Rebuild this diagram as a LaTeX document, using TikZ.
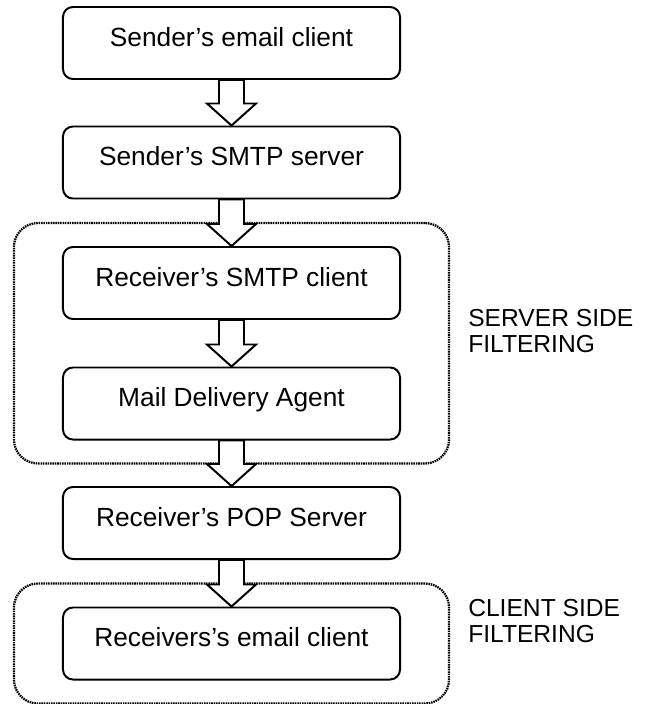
\documentclass[tikz,border=0pt]{standalone}
\usepackage{fontspec}
\setmainfont{Liberation Sans}
\usetikzlibrary{calc,fit}

\tikzset{
  stage/.style={draw, line width=1.4pt, rounded corners=0.25cm,
    minimum width=8.425cm, inner xsep=0pt, inner ysep=0pt,
    text height=0.975cm, text depth=0.825cm,
    font=\fontsize{18.7}{22}\selectfont},
  zone/.style={draw, line width=1.6pt, dash pattern=on 1.1pt off 0.6pt,
    rounded corners=0.6cm, inner xsep=1.2cm, inner ysep=0.575cm},
  zonelabel/.style={anchor=base west, align=left, inner sep=0pt,
    font=\fontsize{17.5}{17.8}\selectfont},
  flow/.style={draw, fill=white, line width=1.4pt}
}

% hollow block arrow from the bottom of #1 to the top of #2
\newcommand{\flowarrow}[2]{%
  \draw[flow] ($(#1.south)+(-12.5,0)$) -- ($(#2.north)+(-12.5,-22)$)
    -- ($(#2.north)+(-24.5,-22)$) -- (#2.north)
    -- ($(#2.north)+(24.5,-22)$) -- ($(#2.north)+(12.5,-22)$)
    -- ($(#1.south)+(12.5,0)$) -- cycle;}

\begin{document}
\begin{tikzpicture}[x=0.025cm, y=-0.025cm]
    \useasboundingbox (0,0) rectangle (647,704);

    % Draw the stages of the mail path
    \node[stage] (sndclient) at (231.5, 43) {Sender’s email client};
    \node[stage] (sndsmtp)   at (231.5, 162.5) {Sender’s SMTP server};
    \node[stage] (rcvsmtp)   at (231.5, 283) {Receiver’s SMTP client};
    \node[stage] (mda)       at (231.5, 403.5) {Mail Delivery Agent};
    \node[stage] (rcvpop)    at (231.5, 523) {Receiver’s POP Server};
    \node[stage] (rcvclient) at (231.5, 643.5) {Receivers’s email client};

    % Draw the dotted filtering zones
    \node[zone, fit=(rcvsmtp)(mda)] (srvzone) {};
    \node[zone, fit=(rcvclient)] (cltzone) {};
    \node[zonelabel] (srvlabel) at (468, 352) {SERVER SIDE\\FILTERING};
    \node[zonelabel] (cltlabel) at (468, 642) {CLIENT SIDE\\FILTERING};

    % Draw the block arrows between the stages
    \foreach \a/\b in {sndclient/sndsmtp, sndsmtp/rcvsmtp, rcvsmtp/mda,
                       mda/rcvpop, rcvpop/rcvclient}
        \flowarrow{\a}{\b};
\end{tikzpicture}
\end{document}
